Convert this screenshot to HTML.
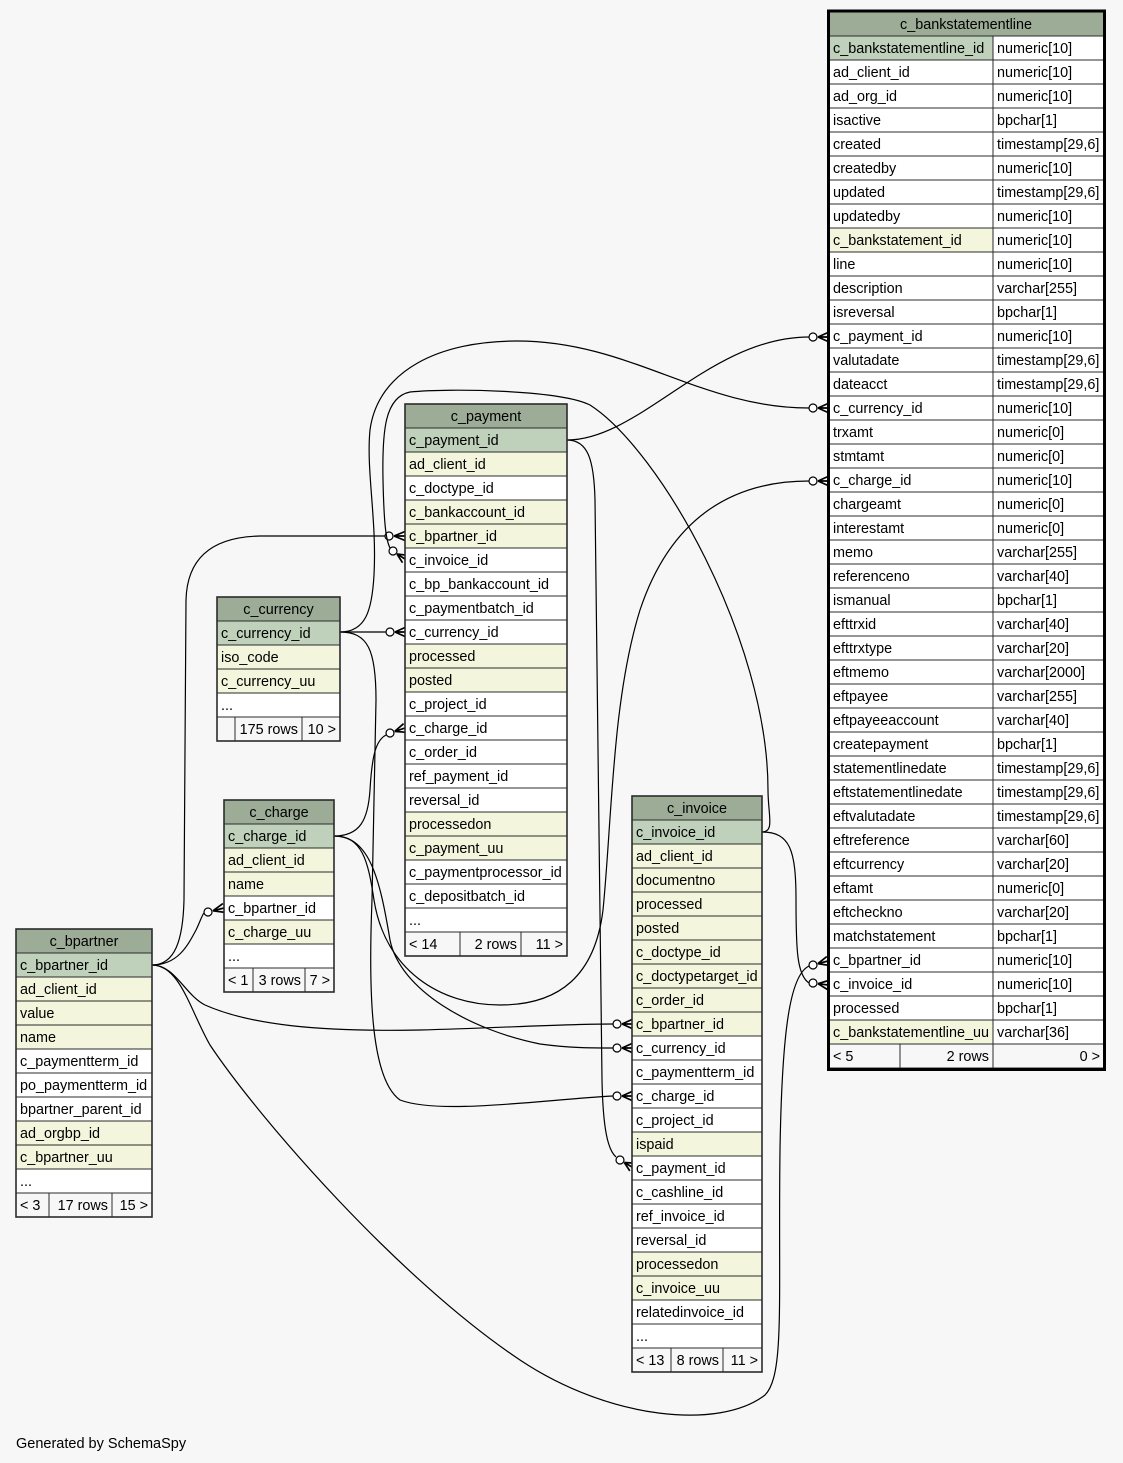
<!DOCTYPE html>
<html>
<head>
<meta charset="utf-8">
<style>
html,body{margin:0;padding:0;background:#f7f7f7;}
svg{display:block;}
text{font-family:"Liberation Sans",Arial,sans-serif;font-size:14.4px;fill:#000;}
.h{fill:#9cac97;stroke:#2b2b2b;stroke-width:1;}
.p{fill:#bfd1bb;stroke:#2b2b2b;stroke-width:1;}
.y{fill:#f3f6dc;stroke:#2b2b2b;stroke-width:1;}
.w{fill:#ffffff;stroke:#2b2b2b;stroke-width:1;}
.f{fill:#f7f7f7;stroke:#2b2b2b;stroke-width:1;}
.o{fill:none;stroke:#2b2b2b;stroke-width:1.6;}
.c{text-anchor:middle;}
.r{text-anchor:end;}
.e{fill:none;stroke:#000;stroke-width:1.2;}
.k{fill:none;stroke:#000;stroke-width:1.7;}
.d{fill:#fff;stroke:#000;stroke-width:1.2;}
</style>
</head>
<body>
<svg width="1123" height="1463" viewBox="0 0 1123 1463" xmlns="http://www.w3.org/2000/svg">
<rect x="0" y="0" width="1123" height="1463" fill="#f7f7f7"/>

<!-- ===== connectors ===== -->
<path class="e" d="M567,440 C640,440 710,337 809,337"/>
<circle class="d" cx="813" cy="337" r="4"/>
<path class="k" d="M818,337 L828,337 M818,337 L828,332.5 M818,337 L828,341.5"/>

<path class="e" d="M340,632 C366,632 372,610 374,575 C377,520 366,470 370,430 C378,370 440,341 517,341 C630,341 700,408 809,408"/>
<circle class="d" cx="813" cy="408" r="4"/>
<path class="k" d="M818,408 L828,408 M818,408 L828,403.5 M818,408 L828,412.5"/>

<path class="e" d="M334,836 C362,836 368,860 374,900 C385,970 440,1005 500,1005 C560,1005 595,975 603,910 C612,820 612,700 640,610 C670,520 730,481 809,481"/>
<circle class="d" cx="813" cy="481" r="4"/>
<path class="k" d="M818,481 L828,481 M818,481 L828,476.5 M818,481 L828,485.5"/>

<path class="e" d="M340,632 L386,632"/>
<circle class="d" cx="390" cy="632" r="4"/>
<path class="k" d="M395,632 L405,632 M395,632 L405,627.5 M395,632 L405,636.5"/>

<path class="e" d="M340,632 C368,632 376,650 376,700 L372,900 C368,1000 372,1080 400,1100 C440,1115 540,1100 613,1096"/>
<circle class="d" cx="617" cy="1096" r="4"/>
<path class="k" d="M622,1096 L632,1096 M622,1096 L632,1091.5 M622,1096 L632,1100.5"/>

<path class="e" d="M334,836 C370,836 380,880 390,940 C400,990 470,1030 540,1044 C570,1048 590,1048 613,1048"/>
<circle class="d" cx="617" cy="1048" r="4"/>
<path class="k" d="M622,1048 L632,1048 M622,1048 L632,1043.5 M622,1048 L632,1052.5"/>

<path class="e" d="M334,836 C360,836 368,820 370,790 C372,755 376,740 386,735"/>
<circle class="d" cx="390" cy="733" r="4"/>
<path class="k" d="M394.7,731.4 L405,728 M394.7,731.4 L406.4,732.3 M394.7,731.4 L403.6,723.7"/>

<path class="e" d="M152,965 C175,965 183,940 184,900 L186,600 C187,560 210,537 260,536 L385,536"/>
<circle class="d" cx="389" cy="536" r="4"/>
<path class="k" d="M394,536 L405,536 M394,536 L405,531.5 M394,536 L405,540.5"/>

<path class="e" d="M152,965 C178,965 188,945 196,930 C200,922 202,915 204,913"/>
<circle class="d" cx="208" cy="912" r="4"/>
<path class="k" d="M212.9,910.8 L224,908 M212.9,910.8 L225.1,912.4 M212.9,910.8 L222.9,903.6"/>

<path class="e" d="M152,965 C175,965 185,995 205,1005 C250,1025 320,1032 420,1030 C500,1028 560,1024 613,1024"/>
<circle class="d" cx="617" cy="1024" r="4"/>
<path class="k" d="M622,1024 L632,1024 M622,1024 L632,1019.5 M622,1024 L632,1028.5"/>

<path class="e" d="M152,965 C180,965 190,1010 210,1045 C260,1120 400,1280 520,1360 C610,1420 720,1430 765,1395 C785,1375 778,1300 780,1150 C782,1030 790,975 809,966"/>
<circle class="d" cx="813" cy="965" r="4"/>
<path class="k" d="M817.8,963.7 L828,961 M817.8,963.7 L829.2,965.4 M817.8,963.7 L826.8,956.6"/>

<path class="e" d="M762,832 C790,832 796,850 796,900 C796,950 797,975 809,983"/>
<circle class="d" cx="813" cy="983" r="4"/>
<path class="k" d="M818,983.7 L828,985 M818,983.7 L827.4,989.5 M818,983.7 L828.6,980.5"/>

<path class="e" d="M762,832 C775,832 768,815 768,790 C768,640 660,450 590,405 C560,390 450,388 410,392 C385,397 382,430 383,480 C384,525 386,540 390,548"/>
<circle class="d" cx="393" cy="551" r="4"/>
<path class="k" d="M397,554 L405,559 M397,554 L402.5,562.7 M397,554 L407.5,555.3"/>

<path class="e" d="M567,440 C588,440 594,460 595,500 L602,1080 C603,1130 608,1150 616,1157"/>
<circle class="d" cx="620" cy="1160" r="4"/>
<path class="k" d="M624.3,1162.5 L632,1167 M624.3,1162.5 L629.8,1170.9 M624.3,1162.5 L634.3,1163.1"/>

<!-- ===== c_payment ===== -->
<rect class="h" x="405" y="404" width="162" height="24"/><text class="c" x="486" y="421">c_payment</text>
<rect class="p" x="405" y="428" width="162" height="24"/><text x="409" y="445">c_payment_id</text>
<rect class="y" x="405" y="452" width="162" height="24"/><text x="409" y="469">ad_client_id</text>
<rect class="w" x="405" y="476" width="162" height="24"/><text x="409" y="493">c_doctype_id</text>
<rect class="y" x="405" y="500" width="162" height="24"/><text x="409" y="517">c_bankaccount_id</text>
<rect class="y" x="405" y="524" width="162" height="24"/><text x="409" y="541">c_bpartner_id</text>
<rect class="w" x="405" y="548" width="162" height="24"/><text x="409" y="565">c_invoice_id</text>
<rect class="w" x="405" y="572" width="162" height="24"/><text x="409" y="589">c_bp_bankaccount_id</text>
<rect class="w" x="405" y="596" width="162" height="24"/><text x="409" y="613">c_paymentbatch_id</text>
<rect class="w" x="405" y="620" width="162" height="24"/><text x="409" y="637">c_currency_id</text>
<rect class="y" x="405" y="644" width="162" height="24"/><text x="409" y="661">processed</text>
<rect class="y" x="405" y="668" width="162" height="24"/><text x="409" y="685">posted</text>
<rect class="w" x="405" y="692" width="162" height="24"/><text x="409" y="709">c_project_id</text>
<rect class="w" x="405" y="716" width="162" height="24"/><text x="409" y="733">c_charge_id</text>
<rect class="w" x="405" y="740" width="162" height="24"/><text x="409" y="757">c_order_id</text>
<rect class="w" x="405" y="764" width="162" height="24"/><text x="409" y="781">ref_payment_id</text>
<rect class="w" x="405" y="788" width="162" height="24"/><text x="409" y="805">reversal_id</text>
<rect class="y" x="405" y="812" width="162" height="24"/><text x="409" y="829">processedon</text>
<rect class="y" x="405" y="836" width="162" height="24"/><text x="409" y="853">c_payment_uu</text>
<rect class="w" x="405" y="860" width="162" height="24"/><text x="409" y="877">c_paymentprocessor_id</text>
<rect class="w" x="405" y="884" width="162" height="24"/><text x="409" y="901">c_depositbatch_id</text>
<rect class="w" x="405" y="908" width="162" height="24"/><text x="409" y="925">...</text>
<rect class="f" x="405" y="932" width="55" height="24"/><text x="409" y="949">&lt; 14</text>
<rect class="f" x="460" y="932" width="61" height="24"/><text class="r" x="517" y="949">2 rows</text>
<rect class="f" x="521" y="932" width="46" height="24"/><text class="r" x="563" y="949">11 &gt;</text>
<rect class="o" x="405" y="404" width="162" height="552"/>

<!-- ===== c_currency ===== -->
<rect class="h" x="217" y="597" width="123" height="24"/><text class="c" x="278.5" y="614">c_currency</text>
<rect class="p" x="217" y="621" width="123" height="24"/><text x="221" y="638">c_currency_id</text>
<rect class="y" x="217" y="645" width="123" height="24"/><text x="221" y="662">iso_code</text>
<rect class="y" x="217" y="669" width="123" height="24"/><text x="221" y="686">c_currency_uu</text>
<rect class="w" x="217" y="693" width="123" height="24"/><text x="221" y="710">...</text>
<rect class="f" x="217" y="717" width="18" height="24"/>
<rect class="f" x="235" y="717" width="67" height="24"/><text class="r" x="298" y="734">175 rows</text>
<rect class="f" x="302" y="717" width="38" height="24"/><text class="r" x="336" y="734">10 &gt;</text>
<rect class="o" x="217" y="597" width="123" height="144"/>

<!-- ===== c_charge ===== -->
<rect class="h" x="224" y="800" width="110" height="24"/><text class="c" x="279" y="817">c_charge</text>
<rect class="p" x="224" y="824" width="110" height="24"/><text x="228" y="841">c_charge_id</text>
<rect class="y" x="224" y="848" width="110" height="24"/><text x="228" y="865">ad_client_id</text>
<rect class="y" x="224" y="872" width="110" height="24"/><text x="228" y="889">name</text>
<rect class="w" x="224" y="896" width="110" height="24"/><text x="228" y="913">c_bpartner_id</text>
<rect class="y" x="224" y="920" width="110" height="24"/><text x="228" y="937">c_charge_uu</text>
<rect class="w" x="224" y="944" width="110" height="24"/><text x="228" y="961">...</text>
<rect class="f" x="224" y="968" width="29" height="24"/><text x="228" y="985">&lt; 1</text>
<rect class="f" x="253" y="968" width="52" height="24"/><text class="r" x="301" y="985">3 rows</text>
<rect class="f" x="305" y="968" width="29" height="24"/><text class="r" x="330" y="985">7 &gt;</text>
<rect class="o" x="224" y="800" width="110" height="192"/>

<!-- ===== c_bpartner ===== -->
<rect class="h" x="16" y="929" width="136" height="24"/><text class="c" x="84" y="946">c_bpartner</text>
<rect class="p" x="16" y="953" width="136" height="24"/><text x="20" y="970">c_bpartner_id</text>
<rect class="y" x="16" y="977" width="136" height="24"/><text x="20" y="994">ad_client_id</text>
<rect class="y" x="16" y="1001" width="136" height="24"/><text x="20" y="1018">value</text>
<rect class="y" x="16" y="1025" width="136" height="24"/><text x="20" y="1042">name</text>
<rect class="w" x="16" y="1049" width="136" height="24"/><text x="20" y="1066">c_paymentterm_id</text>
<rect class="w" x="16" y="1073" width="136" height="24"/><text x="20" y="1090">po_paymentterm_id</text>
<rect class="w" x="16" y="1097" width="136" height="24"/><text x="20" y="1114">bpartner_parent_id</text>
<rect class="y" x="16" y="1121" width="136" height="24"/><text x="20" y="1138">ad_orgbp_id</text>
<rect class="y" x="16" y="1145" width="136" height="24"/><text x="20" y="1162">c_bpartner_uu</text>
<rect class="w" x="16" y="1169" width="136" height="24"/><text x="20" y="1186">...</text>
<rect class="f" x="16" y="1193" width="33" height="24"/><text x="20" y="1210">&lt; 3</text>
<rect class="f" x="49" y="1193" width="63" height="24"/><text class="r" x="108" y="1210">17 rows</text>
<rect class="f" x="112" y="1193" width="40" height="24"/><text class="r" x="148" y="1210">15 &gt;</text>
<rect class="o" x="16" y="929" width="136" height="288"/>

<!-- ===== c_invoice ===== -->
<rect class="h" x="632" y="796" width="130" height="24"/><text class="c" x="697" y="813">c_invoice</text>
<rect class="p" x="632" y="820" width="130" height="24"/><text x="636" y="837">c_invoice_id</text>
<rect class="y" x="632" y="844" width="130" height="24"/><text x="636" y="861">ad_client_id</text>
<rect class="y" x="632" y="868" width="130" height="24"/><text x="636" y="885">documentno</text>
<rect class="y" x="632" y="892" width="130" height="24"/><text x="636" y="909">processed</text>
<rect class="y" x="632" y="916" width="130" height="24"/><text x="636" y="933">posted</text>
<rect class="y" x="632" y="940" width="130" height="24"/><text x="636" y="957">c_doctype_id</text>
<rect class="y" x="632" y="964" width="130" height="24"/><text x="636" y="981">c_doctypetarget_id</text>
<rect class="y" x="632" y="988" width="130" height="24"/><text x="636" y="1005">c_order_id</text>
<rect class="y" x="632" y="1012" width="130" height="24"/><text x="636" y="1029">c_bpartner_id</text>
<rect class="w" x="632" y="1036" width="130" height="24"/><text x="636" y="1053">c_currency_id</text>
<rect class="w" x="632" y="1060" width="130" height="24"/><text x="636" y="1077">c_paymentterm_id</text>
<rect class="w" x="632" y="1084" width="130" height="24"/><text x="636" y="1101">c_charge_id</text>
<rect class="w" x="632" y="1108" width="130" height="24"/><text x="636" y="1125">c_project_id</text>
<rect class="y" x="632" y="1132" width="130" height="24"/><text x="636" y="1149">ispaid</text>
<rect class="w" x="632" y="1156" width="130" height="24"/><text x="636" y="1173">c_payment_id</text>
<rect class="w" x="632" y="1180" width="130" height="24"/><text x="636" y="1197">c_cashline_id</text>
<rect class="w" x="632" y="1204" width="130" height="24"/><text x="636" y="1221">ref_invoice_id</text>
<rect class="w" x="632" y="1228" width="130" height="24"/><text x="636" y="1245">reversal_id</text>
<rect class="y" x="632" y="1252" width="130" height="24"/><text x="636" y="1269">processedon</text>
<rect class="y" x="632" y="1276" width="130" height="24"/><text x="636" y="1293">c_invoice_uu</text>
<rect class="w" x="632" y="1300" width="130" height="24"/><text x="636" y="1317">relatedinvoice_id</text>
<rect class="w" x="632" y="1324" width="130" height="24"/><text x="636" y="1341">...</text>
<rect class="f" x="632" y="1348" width="39" height="24"/><text x="636" y="1365">&lt; 13</text>
<rect class="f" x="671" y="1348" width="52" height="24"/><text class="r" x="719" y="1365">8 rows</text>
<rect class="f" x="723" y="1348" width="39" height="24"/><text class="r" x="758" y="1365">11 &gt;</text>
<rect class="o" x="632" y="796" width="130" height="576"/>

<!-- ===== c_bankstatementline ===== -->
<rect class="h" x="829" y="12" width="275" height="24"/><text class="c" x="966" y="29">c_bankstatementline</text>
<rect class="p" x="829" y="36" width="164" height="24"/><text x="833" y="53">c_bankstatementline_id</text><rect class="w" x="993" y="36" width="111" height="24"/><text x="997" y="53">numeric[10]</text>
<rect class="w" x="829" y="60" width="164" height="24"/><text x="833" y="77">ad_client_id</text><rect class="w" x="993" y="60" width="111" height="24"/><text x="997" y="77">numeric[10]</text>
<rect class="w" x="829" y="84" width="164" height="24"/><text x="833" y="101">ad_org_id</text><rect class="w" x="993" y="84" width="111" height="24"/><text x="997" y="101">numeric[10]</text>
<rect class="w" x="829" y="108" width="164" height="24"/><text x="833" y="125">isactive</text><rect class="w" x="993" y="108" width="111" height="24"/><text x="997" y="125">bpchar[1]</text>
<rect class="w" x="829" y="132" width="164" height="24"/><text x="833" y="149">created</text><rect class="w" x="993" y="132" width="111" height="24"/><text x="997" y="149">timestamp[29,6]</text>
<rect class="w" x="829" y="156" width="164" height="24"/><text x="833" y="173">createdby</text><rect class="w" x="993" y="156" width="111" height="24"/><text x="997" y="173">numeric[10]</text>
<rect class="w" x="829" y="180" width="164" height="24"/><text x="833" y="197">updated</text><rect class="w" x="993" y="180" width="111" height="24"/><text x="997" y="197">timestamp[29,6]</text>
<rect class="w" x="829" y="204" width="164" height="24"/><text x="833" y="221">updatedby</text><rect class="w" x="993" y="204" width="111" height="24"/><text x="997" y="221">numeric[10]</text>
<rect class="y" x="829" y="228" width="164" height="24"/><text x="833" y="245">c_bankstatement_id</text><rect class="w" x="993" y="228" width="111" height="24"/><text x="997" y="245">numeric[10]</text>
<rect class="w" x="829" y="252" width="164" height="24"/><text x="833" y="269">line</text><rect class="w" x="993" y="252" width="111" height="24"/><text x="997" y="269">numeric[10]</text>
<rect class="w" x="829" y="276" width="164" height="24"/><text x="833" y="293">description</text><rect class="w" x="993" y="276" width="111" height="24"/><text x="997" y="293">varchar[255]</text>
<rect class="w" x="829" y="300" width="164" height="24"/><text x="833" y="317">isreversal</text><rect class="w" x="993" y="300" width="111" height="24"/><text x="997" y="317">bpchar[1]</text>
<rect class="w" x="829" y="324" width="164" height="24"/><text x="833" y="341">c_payment_id</text><rect class="w" x="993" y="324" width="111" height="24"/><text x="997" y="341">numeric[10]</text>
<rect class="w" x="829" y="348" width="164" height="24"/><text x="833" y="365">valutadate</text><rect class="w" x="993" y="348" width="111" height="24"/><text x="997" y="365">timestamp[29,6]</text>
<rect class="w" x="829" y="372" width="164" height="24"/><text x="833" y="389">dateacct</text><rect class="w" x="993" y="372" width="111" height="24"/><text x="997" y="389">timestamp[29,6]</text>
<rect class="w" x="829" y="396" width="164" height="24"/><text x="833" y="413">c_currency_id</text><rect class="w" x="993" y="396" width="111" height="24"/><text x="997" y="413">numeric[10]</text>
<rect class="w" x="829" y="420" width="164" height="24"/><text x="833" y="437">trxamt</text><rect class="w" x="993" y="420" width="111" height="24"/><text x="997" y="437">numeric[0]</text>
<rect class="w" x="829" y="444" width="164" height="24"/><text x="833" y="461">stmtamt</text><rect class="w" x="993" y="444" width="111" height="24"/><text x="997" y="461">numeric[0]</text>
<rect class="w" x="829" y="468" width="164" height="24"/><text x="833" y="485">c_charge_id</text><rect class="w" x="993" y="468" width="111" height="24"/><text x="997" y="485">numeric[10]</text>
<rect class="w" x="829" y="492" width="164" height="24"/><text x="833" y="509">chargeamt</text><rect class="w" x="993" y="492" width="111" height="24"/><text x="997" y="509">numeric[0]</text>
<rect class="w" x="829" y="516" width="164" height="24"/><text x="833" y="533">interestamt</text><rect class="w" x="993" y="516" width="111" height="24"/><text x="997" y="533">numeric[0]</text>
<rect class="w" x="829" y="540" width="164" height="24"/><text x="833" y="557">memo</text><rect class="w" x="993" y="540" width="111" height="24"/><text x="997" y="557">varchar[255]</text>
<rect class="w" x="829" y="564" width="164" height="24"/><text x="833" y="581">referenceno</text><rect class="w" x="993" y="564" width="111" height="24"/><text x="997" y="581">varchar[40]</text>
<rect class="w" x="829" y="588" width="164" height="24"/><text x="833" y="605">ismanual</text><rect class="w" x="993" y="588" width="111" height="24"/><text x="997" y="605">bpchar[1]</text>
<rect class="w" x="829" y="612" width="164" height="24"/><text x="833" y="629">efttrxid</text><rect class="w" x="993" y="612" width="111" height="24"/><text x="997" y="629">varchar[40]</text>
<rect class="w" x="829" y="636" width="164" height="24"/><text x="833" y="653">efttrxtype</text><rect class="w" x="993" y="636" width="111" height="24"/><text x="997" y="653">varchar[20]</text>
<rect class="w" x="829" y="660" width="164" height="24"/><text x="833" y="677">eftmemo</text><rect class="w" x="993" y="660" width="111" height="24"/><text x="997" y="677">varchar[2000]</text>
<rect class="w" x="829" y="684" width="164" height="24"/><text x="833" y="701">eftpayee</text><rect class="w" x="993" y="684" width="111" height="24"/><text x="997" y="701">varchar[255]</text>
<rect class="w" x="829" y="708" width="164" height="24"/><text x="833" y="725">eftpayeeaccount</text><rect class="w" x="993" y="708" width="111" height="24"/><text x="997" y="725">varchar[40]</text>
<rect class="w" x="829" y="732" width="164" height="24"/><text x="833" y="749">createpayment</text><rect class="w" x="993" y="732" width="111" height="24"/><text x="997" y="749">bpchar[1]</text>
<rect class="w" x="829" y="756" width="164" height="24"/><text x="833" y="773">statementlinedate</text><rect class="w" x="993" y="756" width="111" height="24"/><text x="997" y="773">timestamp[29,6]</text>
<rect class="w" x="829" y="780" width="164" height="24"/><text x="833" y="797">eftstatementlinedate</text><rect class="w" x="993" y="780" width="111" height="24"/><text x="997" y="797">timestamp[29,6]</text>
<rect class="w" x="829" y="804" width="164" height="24"/><text x="833" y="821">eftvalutadate</text><rect class="w" x="993" y="804" width="111" height="24"/><text x="997" y="821">timestamp[29,6]</text>
<rect class="w" x="829" y="828" width="164" height="24"/><text x="833" y="845">eftreference</text><rect class="w" x="993" y="828" width="111" height="24"/><text x="997" y="845">varchar[60]</text>
<rect class="w" x="829" y="852" width="164" height="24"/><text x="833" y="869">eftcurrency</text><rect class="w" x="993" y="852" width="111" height="24"/><text x="997" y="869">varchar[20]</text>
<rect class="w" x="829" y="876" width="164" height="24"/><text x="833" y="893">eftamt</text><rect class="w" x="993" y="876" width="111" height="24"/><text x="997" y="893">numeric[0]</text>
<rect class="w" x="829" y="900" width="164" height="24"/><text x="833" y="917">eftcheckno</text><rect class="w" x="993" y="900" width="111" height="24"/><text x="997" y="917">varchar[20]</text>
<rect class="w" x="829" y="924" width="164" height="24"/><text x="833" y="941">matchstatement</text><rect class="w" x="993" y="924" width="111" height="24"/><text x="997" y="941">bpchar[1]</text>
<rect class="w" x="829" y="948" width="164" height="24"/><text x="833" y="965">c_bpartner_id</text><rect class="w" x="993" y="948" width="111" height="24"/><text x="997" y="965">numeric[10]</text>
<rect class="w" x="829" y="972" width="164" height="24"/><text x="833" y="989">c_invoice_id</text><rect class="w" x="993" y="972" width="111" height="24"/><text x="997" y="989">numeric[10]</text>
<rect class="w" x="829" y="996" width="164" height="24"/><text x="833" y="1013">processed</text><rect class="w" x="993" y="996" width="111" height="24"/><text x="997" y="1013">bpchar[1]</text>
<rect class="y" x="829" y="1020" width="164" height="24"/><text x="833" y="1037">c_bankstatementline_uu</text><rect class="w" x="993" y="1020" width="111" height="24"/><text x="997" y="1037">varchar[36]</text>
<rect class="f" x="829" y="1044" width="71" height="24"/><text x="833" y="1061">&lt; 5</text>
<rect class="f" x="900" y="1044" width="93" height="24"/><text class="r" x="989" y="1061">2 rows</text>
<rect class="f" x="993" y="1044" width="111" height="24"/><text class="r" x="1100" y="1061">0 &gt;</text>
<rect x="828.5" y="11" width="276" height="1058.5" fill="none" stroke="#000" stroke-width="3"/>

<text x="16" y="1448" style="font-size:14.5px">Generated by SchemaSpy</text>
</svg>
</body>
</html>
